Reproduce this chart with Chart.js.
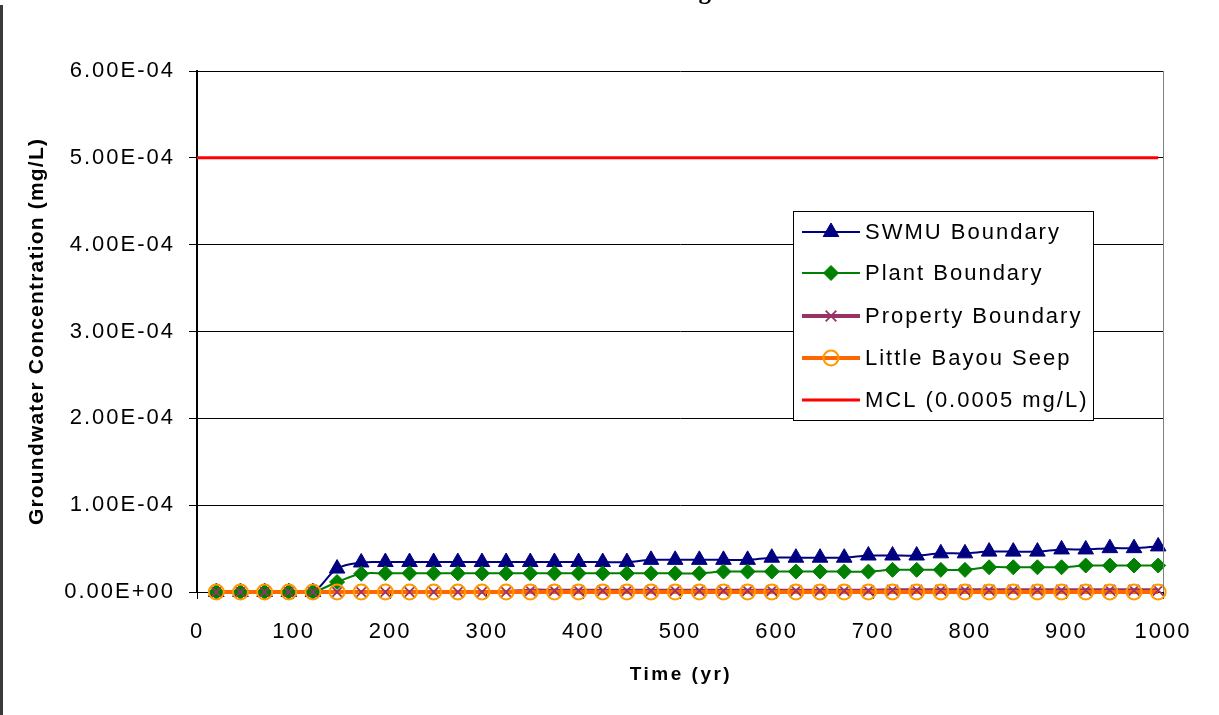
<!DOCTYPE html>
<html>
<head>
<meta charset="utf-8">
<script src="https://cdn.jsdelivr.net/npm/chart.js@4.4.1/dist/chart.umd.min.js"></script>
<style>
  html, body { margin: 0; padding: 0; background: #fff; overflow: hidden; }
  #wrap { position: relative; width: 1219px; height: 715px; }
</style>
</head>
<body>
<div id="wrap"><canvas id="c" width="1219" height="715"></canvas></div>
<script>
// Simulation times (yr)
const years = [20, 45, 70, 95, 120, 145, 170, 195, 220, 245,
               270, 295, 320, 345, 370, 395, 420, 445, 470, 495,
               520, 545, 570, 595, 620, 645, 670, 695, 720, 745,
               770, 795, 820, 845, 870, 895, 920, 945, 970, 995];

// Groundwater concentration (mg/L) at each receptor
const swmuBoundary = [0, 0, 0, 0, 0, 2.7e-5, 3.4e-5, 3.45e-5, 3.45e-5, 3.45e-5,
                      3.45e-5, 3.45e-5, 3.45e-5, 3.45e-5, 3.45e-5, 3.45e-5, 3.45e-5, 3.45e-5, 3.7e-5, 3.7e-5,
                      3.7e-5, 3.7e-5, 3.7e-5, 3.95e-5, 3.95e-5, 3.95e-5, 3.95e-5, 4.2e-5, 4.2e-5, 4.2e-5,
                      4.45e-5, 4.45e-5, 4.65e-5, 4.65e-5, 4.65e-5, 4.9e-5, 4.9e-5, 5.05e-5, 5.05e-5, 5.25e-5];
const plantBoundary = [0, 0, 0, 0, 0, 1.15e-5, 2.1e-5, 2.15e-5, 2.15e-5, 2.15e-5,
                       2.15e-5, 2.15e-5, 2.15e-5, 2.15e-5, 2.15e-5, 2.15e-5, 2.15e-5, 2.15e-5, 2.15e-5, 2.15e-5,
                       2.15e-5, 2.35e-5, 2.35e-5, 2.35e-5, 2.35e-5, 2.35e-5, 2.35e-5, 2.35e-5, 2.55e-5, 2.55e-5,
                       2.55e-5, 2.55e-5, 2.85e-5, 2.85e-5, 2.85e-5, 2.85e-5, 3.05e-5, 3.05e-5, 3.05e-5, 3.05e-5];
const propertyBoundary = [0, 0, 0, 0, 0, 0, 0, 0, 0, 0,
                          0, 0, 0, 1.5e-6, 1.5e-6, 1.5e-6, 1.5e-6, 1.5e-6, 1.5e-6, 1.5e-6,
                          1.5e-6, 1.5e-6, 1.5e-6, 1.5e-6, 1.5e-6, 1.5e-6, 1.5e-6, 1.5e-6, 2.0e-6, 2.0e-6,
                          2.0e-6, 2.0e-6, 2.0e-6, 2.0e-6, 2.0e-6, 2.0e-6, 2.0e-6, 2.0e-6, 2.0e-6, 2.0e-6];
const littleBayouSeep = [0, 0, 0, 0, 0, 0, 0, 0, 0, 0,
                         0, 0, 0, 0, 0, 0, 0, 0, 0, 0,
                         0, 0, 0, 0, 0, 0, 0, 0, 0, 0,
                         0, 0, 0, 0, 0, 0, 0, 0, 0, 0];

// Regulatory limit line
const mclYears = [0, 995];
const mclValues = [5e-4, 5e-4];

// Axis settings
const xMin = 0, xMax = 1000, xStep = 100;
const yMin = 0, yMax = 6e-4, yStep = 1e-4;

const seriesNames = ['SWMU Boundary', 'Plant Boundary', 'Property Boundary', 'Little Bayou Seep', 'MCL (0.0005 mg/L)'];
const headingText = 'Based on Contaminant Leaching from SWMU';
const xTitle = 'Time (yr)';
const yTitle = 'Groundwater Concentration (mg/L)';

const FONT = '"Liberation Sans", Arial, sans-serif';

function pts(xs, ys) { return xs.map((x, i) => ({ x: x, y: ys[i] })); }

function sci(v) {
  if (Math.abs(v) < 1e-12) return '0.00E+00';
  const parts = Number(v).toExponential(2).split('e');
  const n = parseInt(parts[1], 10);
  return parts[0] + 'E' + (n < 0 ? '-' : '+') + String(Math.abs(n)).padStart(2, '0');
}

// Visual style per series
const styles = [
  { line: '#000080', lw: 2, marker: '#000080', pointStyle: 'triangle', r: 9, bw: 1, fill: true },
  { line: '#008000', lw: 2, marker: '#008000', pointStyle: 'rectRot', r: 7.5, bw: 1, fill: true },
  { line: '#993366', lw: 4, marker: '#993366', pointStyle: 'crossRot', r: 7.5, bw: 1.8, fill: false },
  { line: '#FF6600', lw: 4, marker: '#FF9900', pointStyle: 'circle', r: 7.5, bw: 2, fill: false },
  { line: '#FF0000', lw: 3, marker: null }
];

const seriesValues = [swmuBoundary, plantBoundary, propertyBoundary, littleBayouSeep];

const datasets = [];
// lines first (underneath), then markers on top
seriesValues.forEach((vals, i) => {
  const s = styles[i];
  datasets.push({
    label: seriesNames[i],
    data: pts(years, vals),
    borderColor: s.line,
    borderWidth: s.lw,
    pointRadius: 0,
    pointHoverRadius: 0,
    tension: 0.35,
    fill: false,
    clip: 6,
    order: 20 - i
  });
});
datasets.push({
  label: seriesNames[4],
  data: pts(mclYears, mclValues),
  borderColor: styles[4].line,
  borderWidth: styles[4].lw,
  pointRadius: 0,
  pointHoverRadius: 0,
  tension: 0,
  fill: false,
  order: 10
});
seriesValues.forEach((vals, i) => {
  const s = styles[i];
  datasets.push({
    label: seriesNames[i] + ' markers',
    data: pts(years, vals),
    showLine: false,
    pointStyle: s.pointStyle,
    pointRadius: s.r,
    pointHoverRadius: s.r,
    pointBorderColor: s.marker,
    pointBackgroundColor: s.fill ? s.marker : 'rgba(0,0,0,0)',
    pointBorderWidth: s.bw,
    clip: 12,
    order: 9 - i
  });
});

const decor = {
  id: 'decor',
  beforeDraw(chart) {
    chart.ctx.letterSpacing = '2px';
  },
  afterDraw(chart) {
    const ctx = chart.ctx;
    const a = chart.chartArea;
    ctx.save();

    // right edge of the plot
    ctx.strokeStyle = '#808080';
    ctx.lineWidth = 1;
    ctx.beginPath();
    ctx.moveTo(Math.round(a.right) + 0.5, a.top);
    ctx.lineTo(Math.round(a.right) + 0.5, a.bottom);
    ctx.stroke();

    // page rule at the left
    ctx.fillStyle = '#3a3a3a';
    ctx.fillRect(0, 5, 3, 710);

    // heading (runs off the top of the page)
    ctx.letterSpacing = '0px';
    ctx.fillStyle = '#000';
    ctx.font = 'bold 25px "Liberation Serif", "Times New Roman", serif';
    ctx.textAlign = 'center';
    ctx.textBaseline = 'alphabetic';
    ctx.fillText(headingText, 609, -1.5);

    // axis titles
    ctx.letterSpacing = '1.2px';
    ctx.font = 'bold 21px ' + FONT;
    ctx.textBaseline = 'middle';
    ctx.save();
    ctx.translate(37, (a.top + a.bottom) / 2);
    ctx.rotate(-Math.PI / 2);
    ctx.fillText(yTitle, 0, 0);
    ctx.restore();

    ctx.letterSpacing = '2.5px';
    ctx.font = 'bold 19px ' + FONT;
    ctx.fillText(xTitle, (a.left + a.right) / 2 + 1, 675);

    // legend box
    const lx = 793, ly = 211, lw = 300, lh = 209;
    ctx.fillStyle = '#fff';
    ctx.fillRect(lx, ly, lw, lh);
    ctx.strokeStyle = '#000';
    ctx.lineWidth = 1;
    ctx.strokeRect(lx + 0.5, ly + 0.5, lw, lh);

    const rowY = [232, 273, 316, 358, 400];
    ctx.letterSpacing = '2px';
    ctx.font = '22px ' + FONT;
    ctx.textAlign = 'left';
    ctx.textBaseline = 'middle';
    for (let i = 0; i < 5; i++) {
      const s = styles[i];
      const y = rowY[i];
      ctx.strokeStyle = s.line;
      ctx.lineWidth = s.lw;
      ctx.beginPath();
      ctx.moveTo(802, y);
      ctx.lineTo(860, y);
      ctx.stroke();
      if (s.marker) {
        ctx.fillStyle = s.fill ? s.marker : 'rgba(0,0,0,0)';
        ctx.strokeStyle = s.marker;
        ctx.lineWidth = s.bw;
        Chart.helpers.drawPoint(ctx, { pointStyle: s.pointStyle, radius: s.r, rotation: 0, borderWidth: s.bw }, 831, y);
      }
      ctx.fillStyle = '#000';
      ctx.fillText(seriesNames[i], 865, y + 1);
    }
    ctx.restore();
  }
};

new Chart(document.getElementById('c'), {
  type: 'line',
  data: { datasets: datasets },
  plugins: [decor],
  options: {
    responsive: false,
    animation: false,
    devicePixelRatio: 1,
    events: [],
    layout: { padding: { left: 0, top: 71, right: 56, bottom: 0 } },
    plugins: { legend: { display: false }, tooltip: { enabled: false }, title: { display: false } },
    scales: {
      x: {
        type: 'linear',
        min: xMin, max: xMax,
        ticks: { stepSize: xStep, color: '#000', font: { family: FONT, size: 22 }, padding: 20, maxRotation: 0, autoSkip: false,
                 callback: (v) => String(v) },
        grid: { drawOnChartArea: false, drawTicks: true, tickLength: 7, color: '#000', lineWidth: 1 },
        border: { color: '#000', width: 1 },
        afterFit(s) { s.height = 123; }
      },
      y: {
        type: 'linear',
        min: yMin, max: yMax,
        ticks: { stepSize: yStep, color: '#000', font: { family: FONT, size: 22 }, padding: 14, callback: (v) => sci(v) },
        grid: { color: '#000', lineWidth: 1, drawTicks: true, tickLength: 8 },
        border: { color: '#000', width: 2 },
        afterFit(s) { s.width = 197; }
      }
    }
  }
});
</script>
</body>
</html>
